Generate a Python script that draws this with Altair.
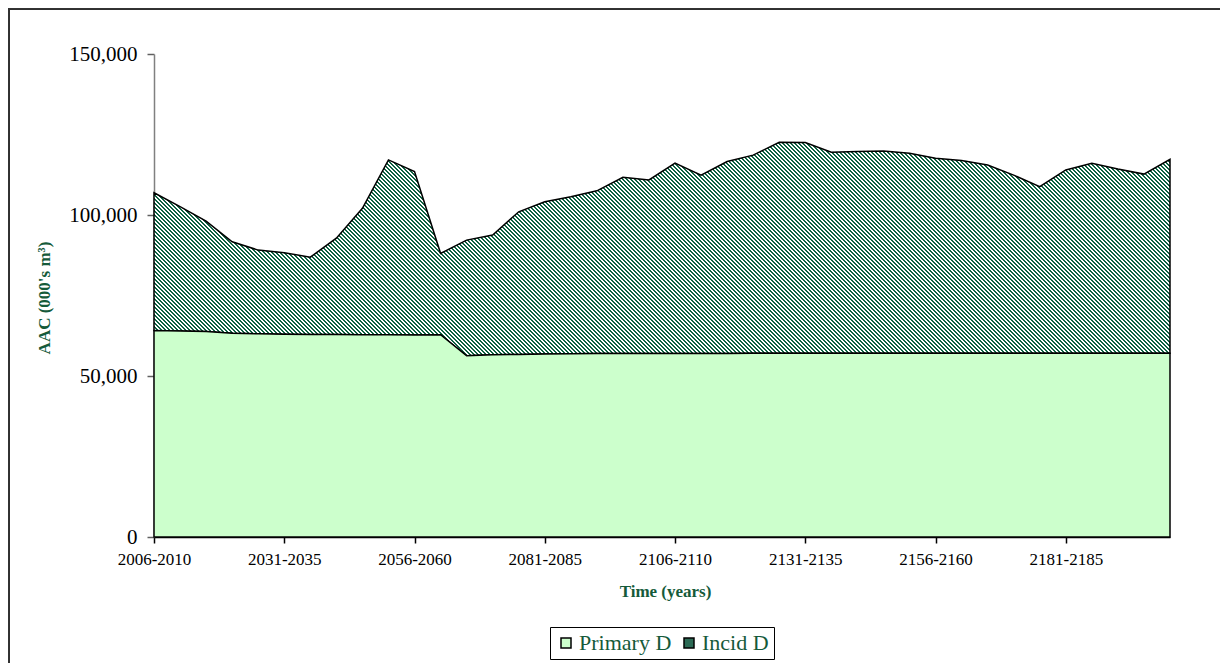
import math
import altair as alt
import pandas as pd

# ---------------- data ----------------
periods = [
    "2006-2010", "2011-2015", "2016-2020", "2021-2025", "2026-2030",
    "2031-2035", "2036-2040", "2041-2045", "2046-2050", "2051-2055",
    "2056-2060", "2061-2065", "2066-2070", "2071-2075", "2076-2080",
    "2081-2085", "2086-2090", "2091-2095", "2096-2100", "2101-2105",
    "2106-2110", "2111-2115", "2116-2120", "2121-2125", "2126-2130",
    "2131-2135", "2136-2140", "2141-2145", "2146-2150", "2151-2155",
    "2156-2160", "2161-2165", "2166-2170", "2171-2175", "2176-2180",
    "2181-2185", "2186-2190", "2191-2195", "2196-2200", "2201-2205",
]

primary_d = [
    64100, 64000, 63800, 63300, 63100, 63000, 62900, 62900, 62800, 62800,
    62700, 62800, 56300, 56600, 56700, 56800, 56900, 57000, 57000, 57000,
    57000, 57000, 57000, 57100, 57100, 57100, 57100, 57100, 57100, 57100,
    57100, 57100, 57100, 57100, 57100, 57100, 57100, 57100, 57100, 57100,
]

incid_d = [
    42800, 38600, 34300, 28400, 26000, 25300, 24000, 29900, 39300, 54300,
    50800, 25300, 35900, 37200, 44300, 47300, 48800, 50500, 54700, 53900,
    59100, 55400, 59600, 61500, 65500, 65400, 62400, 62600, 62800, 62100,
    60500, 59800, 58400, 55300, 51700, 56900, 59000, 57200, 55600, 60200,
]

series_names = ["Primary D", "Incid D"]
x_tick_labels = ["2006-2010", "2031-2035", "2056-2060", "2081-2085",
                 "2106-2110", "2131-2135", "2156-2160", "2181-2185"]
y_ticks = [0, 50000, 100000, 150000]

# ---------------- style ----------------
W, H = 1016, 483
YMAX = 150000
GREEN_TEXT = "#155A3A"
HATCH_DARK = "#0E6242"
PRIMARY_FILL = "#CCFFCC"
FONT = "Liberation Serif"

df = pd.DataFrame({"period": periods, "primary": primary_d, "incid": incid_d})
df["total"] = df["primary"] + df["incid"]
df["series"] = series_names[0]

# diagonal hatch built as a striped linear gradient (objectBoundingBox units)
top_px = H * (1 - df["total"].max() / YMAX)
bot_px = H * (1 - df["primary"].min() / YMAX)
bh = bot_px - top_px
c = (1 / bh + 1 / W) / (1 / bh ** 2 + 1 / W ** 2)
gx2 = c / bh
gy2 = 1 - c / W
span = (W + bh) / math.sqrt(2)
period_px = 4 / math.sqrt(2)
p = period_px / span
dark_share = 0.58
stops = []
k = 0
while k * p < 1:
    t0 = k * p
    t1 = min(t0 + p * dark_share, 1.0)
    t2 = min(t0 + p, 1.0)
    stops += [
        {"offset": round(t0, 6), "color": HATCH_DARK},
        {"offset": round(t1, 6), "color": HATCH_DARK},
        {"offset": round(t1, 6), "color": "#FFFFFF"},
        {"offset": round(t2, 6), "color": "#FFFFFF"},
    ]
    k += 1
hatch = {"gradient": "linear", "x1": 0, "y1": 1, "x2": gx2, "y2": gy2, "stops": stops}

x_enc = alt.X(
    "period:O",
    sort=periods,
    scale=alt.Scale(type="point", padding=0),
    axis=alt.Axis(
        values=x_tick_labels,
        labelAngle=0,
        labelOverlap=False,
        labelFont=FONT,
        labelFontSize=17,
        labelColor="black",
        labelPadding=8,
        tickSize=6,
        tickColor="black",
        tickWidth=1.5,
        domainColor="black",
        domainWidth=1.5,
        grid=False,
        title="Time (years)",
        titleFont=FONT,
        titleFontSize=17,
        titleFontWeight="bold",
        titleColor=GREEN_TEXT,
        titleX=W / 2 + 3,
        titleY=59,
        titleBaseline="alphabetic",
    ),
)

y_axis = alt.Axis(
    values=y_ticks,
    format=",d",
    labelFont=FONT,
    labelFontSize=21,
    labelColor="black",
    labelPadding=10,
    tickSize=7,
    tickColor="#606060",
    tickWidth=1.5,
    domainColor="#808080",
    domainWidth=1.5,
    grid=False,
    title="AAC (000's m³)",
    titleFont=FONT,
    titleFontSize=17,
    titleFontWeight="bold",
    titleColor=GREEN_TEXT,
    titleAngle=270,
    titleBaseline="middle",
    titleX=-110,
    titleY=H / 2 + 2,
)
y_scale = alt.Scale(domain=[0, YMAX], nice=False)

base = alt.Chart(df).encode(x=x_enc)

primary_area = base.mark_area(stroke="black", strokeWidth=1.5).encode(
    y=alt.Y("primary:Q", scale=y_scale, axis=y_axis, title="AAC (000's m³)"),
    fill=alt.Fill(
        "series:N",
        scale=alt.Scale(domain=series_names, range=[PRIMARY_FILL, "#2C6A55"]),
        legend=alt.Legend(
            title=None,
            orient="none",
            legendX=396,
            legendY=573,
            direction="horizontal",
            symbolType="square",
            symbolSize=100,
            symbolStrokeColor="black",
            symbolStrokeWidth=1.5,
            symbolOpacity=1,
            labelFont=FONT,
            labelFontSize=22,
            labelColor=GREEN_TEXT,
            labelOffset=2,
            columnPadding=6,
            padding=5,
            strokeColor="black",
            fillColor="white",
        ),
    ),
)

incid_area = base.mark_area(stroke="black", strokeWidth=1.5, fill=hatch).encode(
    y=alt.Y("total:Q", scale=y_scale, axis=y_axis, title="AAC (000's m³)"),
    y2="primary:Q",
)

left_border = alt.Chart(df).mark_rule(color="#333333", strokeWidth=1.5).encode(
    x=alt.value(-145.5), y=alt.value(-46), y2=alt.value(H + 126)
)
top_border = alt.Chart(df).mark_rule(color="#333333", strokeWidth=1.5).encode(
    x=alt.value(-146), x2=alt.value(W + 50), y=alt.value(-45.5)
)

chart = (
    alt.layer(incid_area, primary_area, left_border, top_border)
    .properties(
        width=W,
        height=H,
        padding={"left": 146, "top": 46, "right": 50, "bottom": 126},
        autosize=alt.AutoSizeParams(type="none"),
        background="white",
    )
    .configure_view(stroke="transparent")
)

chart.save("out.html", embed_options={"renderer": "svg", "actions": False})
